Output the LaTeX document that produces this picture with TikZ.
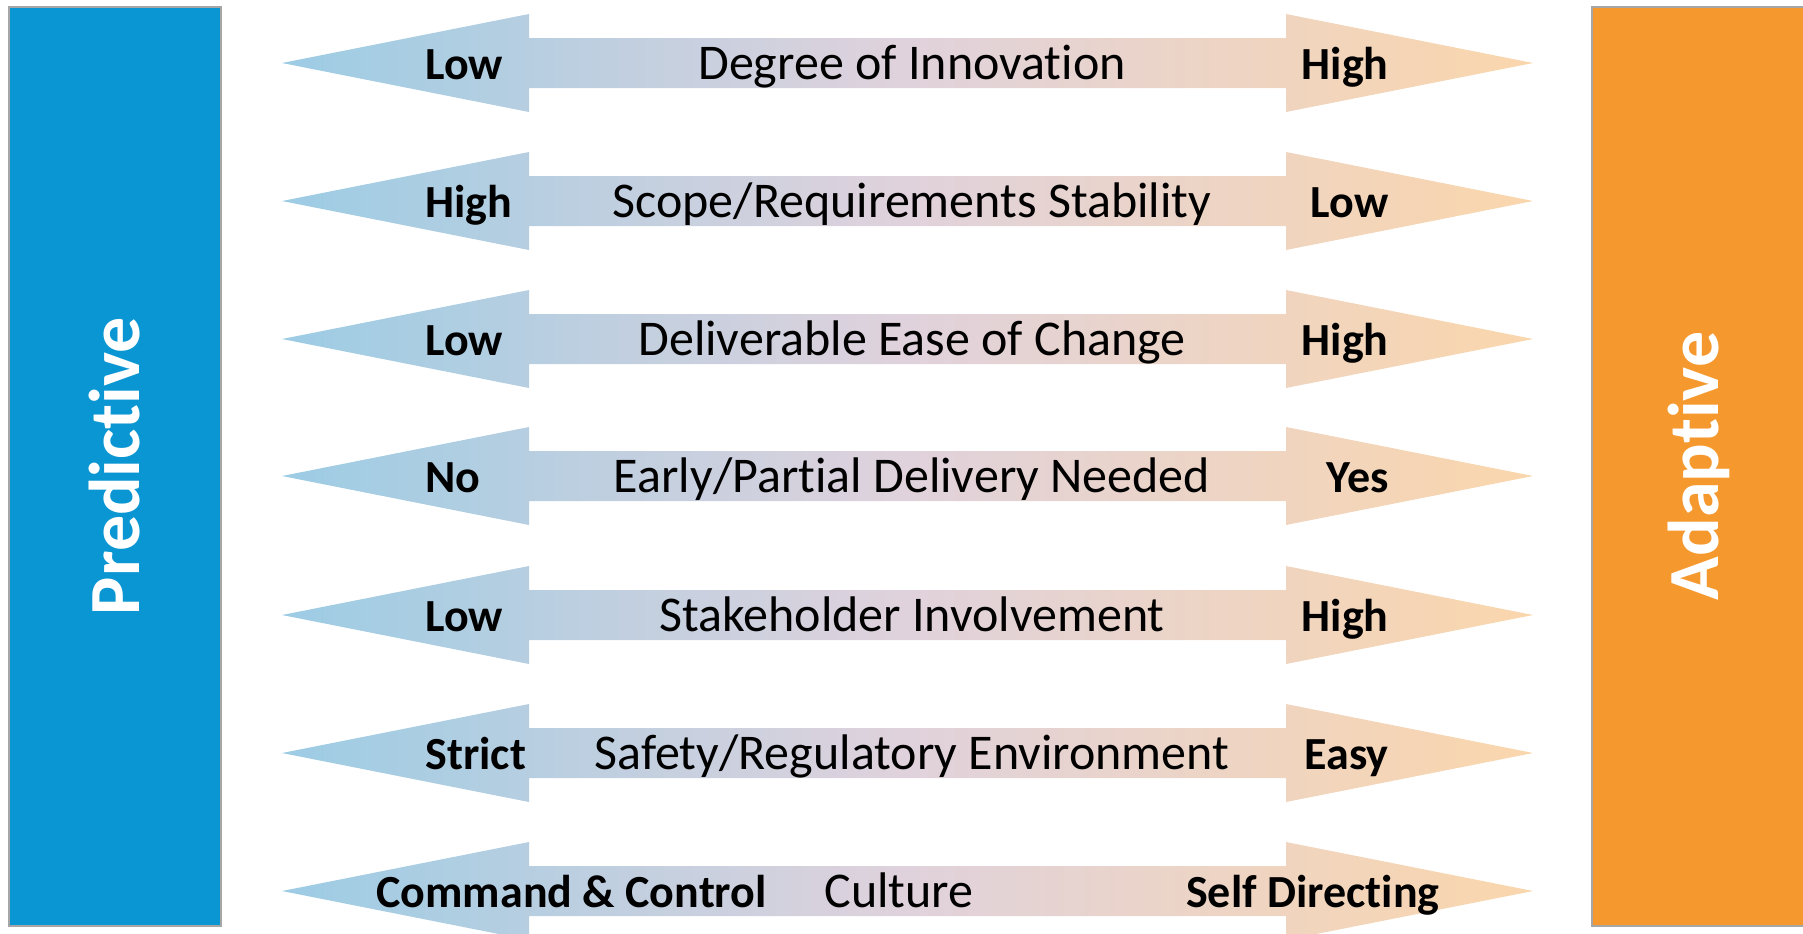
\documentclass[tikz,border=0pt]{standalone}
\usepackage{fontspec}
\setmainfont{Carlito}[Ligatures=CommonOff]
\definecolor{predblue}{RGB}{10,150,210}
\definecolor{adaporange}{RGB}{245,152,46}
\definecolor{arrL}{RGB}{156,204,228}
\definecolor{arrM}{RGB}{224,210,220}
\definecolor{arrR}{RGB}{250,214,172}
\begin{document}
\begin{tikzpicture}[x=0.5pt,y=-0.5pt,
  lbl/.style={font=\fontsize{23}{26}\selectfont\bfseries, inner sep=0pt},
  ctr/.style={font=\fontsize{25}{28}\selectfont, inner sep=0pt},
  bar/.style={draw=black!35, line width=0.6pt},
  side/.style={font=\fontsize{36}{40}\selectfont\bfseries, text=white, rotate=90, inner sep=0pt},
  dbl/.style={left color=arrL, right color=arrR, middle color=arrM}]
\useasboundingbox (0,0) rectangle (1803,933);
\begin{scope}
\clip (0,0) rectangle (1803,933);
\draw[bar, fill=predblue] (9,7) rectangle (221,926);
\draw[bar, fill=adaporange] (1592,7) rectangle (1810,926);
\node[side] (pred) at (115,466) {Predictive};
\node[side] (adap) at (1699,466) {Adaptive};
\foreach \y/\l/\c/\r [count=\i] in {63/Low/Degree of Innovation/High,
  201/High/Scope\slash Requirements Stability/Low,
  339/Low/Deliverable Ease of Change/High,
  476/No/Early\slash Partial Delivery Needed/Yes,
  615/Low/Stakeholder Involvement/High,
  753/Strict/Safety\slash Regulatory Environment/Easy}{
  \shade[dbl] (282,\y) -- (529,\y-49) -- (529,\y-25) -- (1286,\y-25) -- (1286,\y-49)
    -- (1533,\y) -- (1286,\y+49) -- (1286,\y+25) -- (529,\y+25) -- (529,\y+49) -- cycle;
  \node[lbl, anchor=base west] (l\i) at (425,\y+16) {\l};
  \node[ctr, anchor=base] (c\i) at (912,\y+16) {\c};
  \node[lbl, anchor=base east] (r\i) at (1389,\y+16) {\r};
}
\def\y{891}
\shade[dbl] (282,\y) -- (529,\y-49) -- (529,\y-25) -- (1286,\y-25) -- (1286,\y-49)
    -- (1533,\y) -- (1286,\y+49) -- (1286,\y+25) -- (529,\y+25) -- (529,\y+49) -- cycle;
\node[lbl, anchor=base west] (l7) at (376,\y+16) {Command \& Control};
\node[ctr, anchor=base] (c7) at (899,\y+16) {Culture};
\node[lbl, anchor=base east] (r7) at (1440,\y+16) {Self Directing};
\end{scope}
\end{tikzpicture}
\end{document}
